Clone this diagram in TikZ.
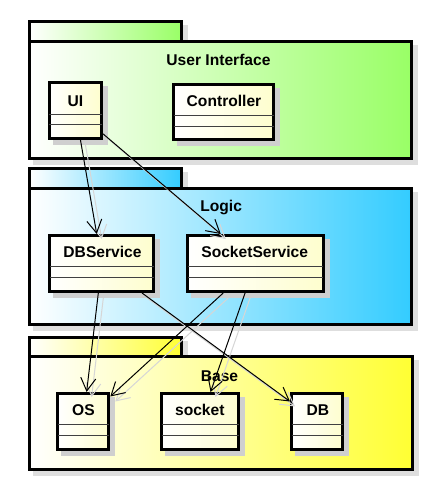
\documentclass[tikz,border=0pt]{standalone}
\usepackage{fontspec}
\setmainfont{Liberation Sans}
\usetikzlibrary{arrows.meta,shadows}
\definecolor{pkggreen}{HTML}{99FF66}
\definecolor{pkgblue}{HTML}{33CCFF}
\definecolor{pkgyellow}{HTML}{FFFF33}
\definecolor{clsfill}{HTML}{FEFECE}
\newcommand\umlpkg[7]{%
  \begin{scope}[shift={(5,5)}]
    \path[pshadow] (#1,#4) rectangle (#3,#5);
    \path[pshadow] (#1,#5) rectangle (#2,#6);
  \end{scope}
  \path[pkgline, left color=white, right color=#7] (#1,#4) rectangle (#3,#5);
  \path[pkgline, left color=white, right color=#7] (#1,#5) rectangle (#2,#6);
}
\begin{document}
\begin{tikzpicture}[x=1pt,y=-1pt,
  pkgline/.style={draw=black, line width=3pt},
  pshadow/.style={fill=black!13, draw=black!13, line width=3pt},
  cls/.style={rectangle, draw=black, line width=3pt, inner sep=0pt,
    left color=white, right color=clsfill,
    drop shadow={shadow xshift=5pt, shadow yshift=-5pt, fill=black!19, draw=black!19, opacity=1}},
  cmp/.style={line width=1pt, draw=black!75},
  ttl/.style={font=\fontsize{15.6}{18}\selectfont\bfseries, inner sep=0pt, anchor=base},
  dep/.style={draw=black, line width=1pt, -{Straight Barb[length=13pt,width=15pt]}},
  depsh/.style={draw=black!16, line width=1pt, -{Straight Barb[length=13pt,width=15pt]},
    transform canvas={xshift=5pt,yshift=-5pt}},
]
\useasboundingbox (0,0) rectangle (442,490);
\fill[white] (0,0) rectangle (442,490);

% packages
\umlpkg{29.5}{411.7}{181.7}{21.7}{41}{158.3}{pkggreen}
\umlpkg{29.5}{411.7}{181.7}{168.7}{188.3}{324.3}{pkgblue}
\umlpkg{29}{412}{181.7}{337}{356.3}{469}{pkgyellow}

\node[ttl] (t1) at (218.5,65.7) {User Interface};
\node[ttl] (t2) at (221.2,211.7) {Logic};
\node[ttl] (t3) at (219.5,381.7) {Base};

% classes
\node[cls, minimum width=52.3pt, minimum height=55.7pt] (ui) at (75.35,110.35) {};
\node[cls, minimum width=100.3pt, minimum height=54.7pt] (ctl) at (223.65,111.85) {};
\node[cls, minimum width=104pt, minimum height=56pt] (dbs) at (101.8,263.5) {};
\node[cls, minimum width=135.7pt, minimum height=56pt] (sks) at (255.35,263.5) {};
\node[cls, minimum width=51.3pt, minimum height=55.7pt] (os) at (83.15,421.35) {};
\node[cls, minimum width=77pt, minimum height=55.7pt] (sock) at (200.3,421.35) {};
\node[cls, minimum width=51.3pt, minimum height=55.7pt] (db) at (317.15,421.35) {};

\foreach \n/\a/\b in {ui/114.3/124.3, ctl/115.7/126.3, dbs/266.7/277.3, sks/266.7/277.3,
                      os/424.3/435.3, sock/424.3/435.3, db/424.3/435.3}{
  \draw[cmp] ([xshift=1.5pt]\n.west |- 0,\a) -- ([xshift=-1.5pt]\n.east |- 0,\a);
  \draw[cmp] ([xshift=1.5pt]\n.west |- 0,\b) -- ([xshift=-1.5pt]\n.east |- 0,\b);
}

\node[ttl] (uin) at (75.5,106) {UI};
\node[ttl] (ctln) at (224,106.7) {Controller};
\node[ttl] (dbsn) at (102.5,257.7) {DBService};
\node[ttl] (sksn) at (254.7,257.7) {SocketService};
\node[ttl] (osn) at (83.5,415.7) {OS};
\node[ttl] (sockn) at (199.8,415.7) {socket};
\node[ttl] (dbn) at (317.8,415.7) {DB};

% connector shadows
\draw[depsh] (ui) -- (dbs);
\draw[depsh] (ui) -- (sks);
\draw[depsh] (dbs) -- (os);
\draw[depsh] (dbs) -- (db);
\draw[depsh] (sks) -- (os);
\draw[depsh] (sks) -- (sock);

% connectors
\draw[dep] (ui) -- (dbs);
\draw[dep] (ui) -- (sks);
\draw[dep] (dbs) -- (os);
\draw[dep] (dbs) -- (db);
\draw[dep] (sks) -- (os);
\draw[dep] (sks) -- (sock);
\end{tikzpicture}
\end{document}
